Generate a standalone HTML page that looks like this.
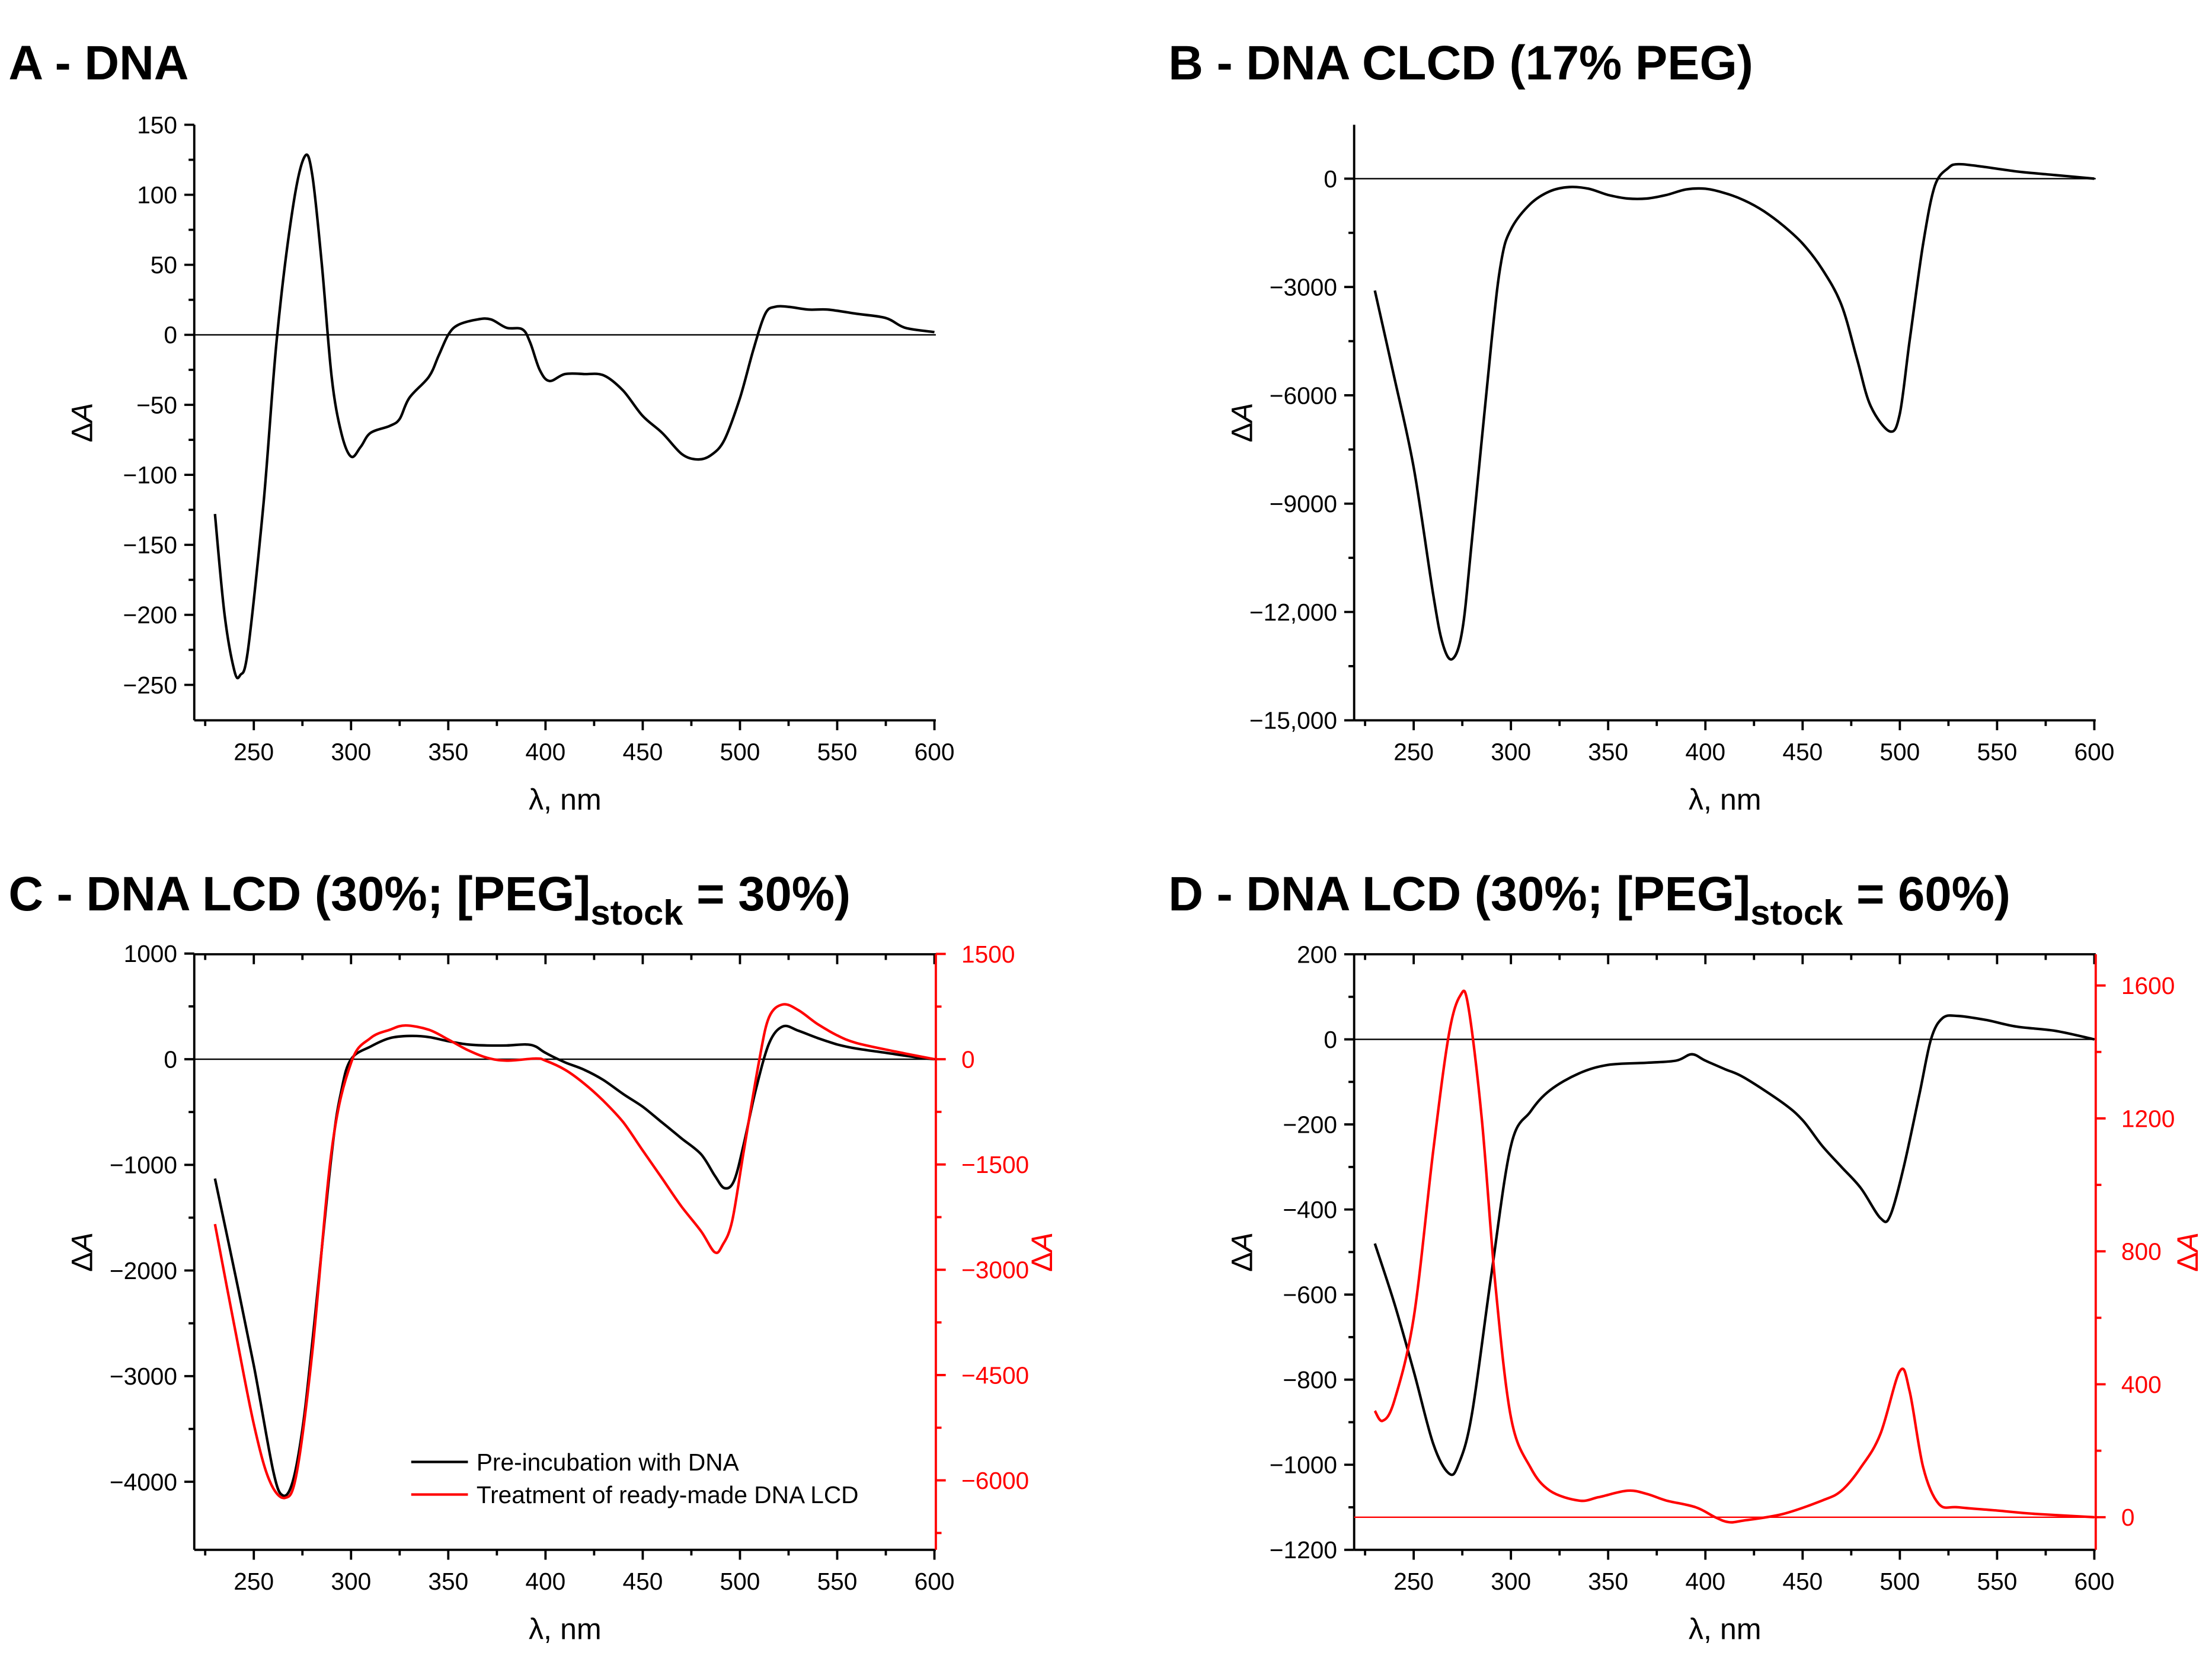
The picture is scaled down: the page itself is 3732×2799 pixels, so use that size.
<!DOCTYPE html>
<html><head><meta charset="utf-8"><style>
html,body{margin:0;padding:0;background:#fff}
svg{display:block}
text{font-family:"Liberation Sans",Arial,sans-serif}
</style></head><body>
<svg id="fig" width="3732" height="2799" viewBox="0 0 1560 1170" xmlns="http://www.w3.org/2000/svg">
</svg>
<script>
// Panel A data
const aLam=[230,235,240,243,247,255,262,270,276,280,285,290,295,300,305,310,320,325,330,340,345,350,355,365,372,380,388,392,397,402,410,420,430,440,450,460,470,478,485,492,500,507,513,518,525,535,545,560,575,585,600];
const aVal=[-128,-200,-240,-243,-225,-120,0,90,127,115,50,-30,-70,-87,-80,-70,-65,-60,-45,-30,-15,0,7,11,11,5,4,-5,-25,-33,-28,-28,-29,-40,-58,-70,-85,-89,-86,-75,-45,-10,15,20,20,18,18,15,12,5,2];
const aTicks=[150,100,50,0,-50,-100,-150,-200,-250];
// Panel B data
const bLam=[230,240,250,260,265,270,275,280,290,295,300,310,320,330,340,350,360,370,380,390,400,410,420,430,440,450,460,470,478,485,495,500,505,512,518,525,530,540,560,580,600];
const bVal=[-3100,-5500,-8000,-11500,-12900,-13300,-12500,-10000,-4500,-2300,-1400,-700,-350,-230,-280,-450,-550,-550,-450,-300,-280,-400,-600,-900,-1300,-1800,-2500,-3500,-5000,-6300,-7000,-6500,-4500,-1800,-200,300,400,350,200,100,0];
const bTicks=[0,-3000,-6000,-9000,-12000,-15000];
const bTickLabels=["0","\u22123000","\u22126000","\u22129000","\u221212,000","\u221215,000"];
// Panel C data
const cLamK=[230,240,250,260,265,270,275,280,290,295,300,310,320,330,340,350,360,370,380,390,395,400,410,420,430,440,450,460,470,480,487,492,497,502,508,515,522,530,540,550,560,575,590,600];
const cValK=[-1130,-2000,-2900,-3900,-4130,-4000,-3500,-2700,-900,-300,0,120,200,220,210,170,140,130,130,140,120,60,-30,-100,-200,-330,-450,-600,-750,-900,-1100,-1220,-1150,-800,-300,150,310,270,200,140,100,60,20,0];
const cLamR=[230,240,250,258,266,272,280,290,300,310,320,328,340,350,360,370,380,395,400,410,420,430,440,450,460,470,480,487,491,496,502,510,515,522,530,540,550,560,580,600];
const cValR=[-2350,-3800,-5200,-6000,-6250,-5900,-4200,-1300,-50,300,420,480,420,280,130,20,-20,10,-20,-150,-350,-600,-900,-1300,-1700,-2100,-2450,-2750,-2650,-2300,-1300,0,600,780,700,500,340,230,110,0];
const cTicksL=[1000,0,-1000,-2000,-3000,-4000];
const cTicksR=[1500,0,-1500,-3000,-4500,-6000];
// Panel D data
const dLamK=[230,240,250,260,268,273,280,290,300,310,320,335,350,370,385,393,400,410,420,440,450,460,470,480,490,495,502,510,516,522,530,545,560,580,600];
const dValK=[-480,-620,-780,-950,-1020,-1000,-880,-550,-250,-170,-120,-80,-60,-55,-50,-35,-50,-70,-90,-150,-190,-250,-300,-350,-420,-415,-300,-130,0,50,55,45,30,20,0];
const dLamR=[230,234,240,250,260,268,274,278,285,292,300,310,320,335,345,360,370,380,395,405,412,420,440,460,470,480,490,500,505,512,520,530,550,570,600];
const dValR=[320,290,350,600,1100,1450,1570,1540,1200,700,300,150,80,50,60,80,70,50,30,0,-15,-10,10,50,80,150,250,440,380,150,40,30,20,10,0];
const dTicksL=[200,0,-200,-400,-600,-800,-1000,-1200];
const dTicksR=[1600,1200,800,400,0];
const xTicks=[250,300,350,400,450,500,550,600];

const NS="http://www.w3.org/2000/svg";
const svg=document.getElementById('fig');
function mk(tag,attrs,parent){const e=document.createElementNS(NS,tag);for(const k in attrs)e.setAttribute(k,attrs[k]);(parent||svg).appendChild(e);return e;}
function minus(v){return v<0?"\u2212"+Math.abs(v):String(v);}
function smoothPath(pts){
  let d="M"+pts[0][0].toFixed(1)+","+pts[0][1].toFixed(1);
  for(let i=0;i<pts.length-1;i++){
    const p0=pts[i-1]||pts[i],p1=pts[i],p2=pts[i+1],p3=pts[i+2]||p2;
    const c1x=p1[0]+(p2[0]-p0[0])/6,c1y=p1[1]+(p2[1]-p0[1])/6;
    const c2x=p2[0]-(p3[0]-p1[0])/6,c2y=p2[1]-(p3[1]-p1[1])/6;
    d+=" C"+c1x.toFixed(1)+","+c1y.toFixed(1)+" "+c2x.toFixed(1)+","+c2y.toFixed(1)+" "+p2[0].toFixed(1)+","+p2[1].toFixed(1);
  }
  return d;
}
function xScale(x0,x1){return l=>x0+(l-250)*(x1-x0)/350;}
function yScale(v0,p0,v1,p1){return v=>p0+(v-v0)*(p1-p0)/(v1-v0);}

function panel(o){
  const g=mk('g',{});
  
  
  const t=mk('text',{x:o.tx,y:o.ty,'font-size':34,'font-weight':'bold',fill:'#000'},g);
  
  
  t.innerHTML=o.title;
  const X=o.X,Y=o.Y;
  const z=mk('line',{x1:o.L,x2:o.R,y1:Y(0),y2:Y(0),stroke:'#000','stroke-width':1},g);
  
  
  const ax=mk('g',{stroke:'#000','stroke-width':1.6,fill:'none'},g);
  
  
  mk('line',{x1:o.L,x2:o.L,y1:o.T,y2:o.B},ax);
  mk('line',{x1:o.L,x2:o.R,y1:o.B,y2:o.B},ax);
  if(o.box){mk('line',{x1:o.L,x2:o.R,y1:o.T,y2:o.T},ax);}
  for(let l=225;l<=600;l+=25){
    const x=X(l);const major=l%50==0;
    mk('line',{x1:x,x2:x,y1:o.B,y2:o.B+(major?7:4)},ax);
    if(o.box)mk('line',{x1:x,x2:x,y1:o.T,y2:o.T+(major?7:4)},ax);
  }
  xTicks.forEach(l=>{const tt=mk('text',{x:X(l),y:o.B+28,'font-size':17,'text-anchor':'middle'},g);tt.textContent=l;});
  const xt=mk('text',{x:(o.L+o.R)/2,y:o.B+63,'font-size':21,'text-anchor':'middle'},g);
  
  
  xt.textContent="\u03bb, nm";
  o.lt.forEach((v,i)=>{
    const y=Y(v);mk('line',{x1:o.L-7,x2:o.L,y1:y,y2:y},ax);
    const tt=mk('text',{x:o.L-12,y:y+6,'font-size':17,'text-anchor':'end'},g);
    
    
    tt.textContent=o.ll?o.ll[i]:minus(v);
    if(i<o.lt.length-1){const ym=Y((v+o.lt[i+1])/2);mk('line',{x1:o.L-4,x2:o.L,y1:ym,y2:ym},ax);}
  });
  const yt=mk('text',{transform:`translate(${o.L-72},${(o.T+o.B)/2}) rotate(-90)`,'font-size':21,'text-anchor':'middle'},g);
  
  
  yt.innerHTML='\u0394<tspan font-style="italic">A</tspan>';
  if(o.YR){
    const ra=mk('g',{stroke:'#f00','stroke-width':1.6},g);
    
    
    mk('line',{x1:o.R,x2:o.R,y1:o.T,y2:o.B},ra);
    o.rt.forEach((v,i)=>{
      const y=o.YR(v);mk('line',{x1:o.R,x2:o.R+7,y1:y,y2:y},ra);
      const tt=mk('text',{x:o.R+18,y:y+6,'font-size':17,fill:'#f00',stroke:'none'},g);
      
      
      tt.textContent=minus(v);
      if(i<o.rt.length-1){const ym=o.YR((v+o.rt[i+1])/2);mk('line',{x1:o.R,x2:o.R+4,y1:ym,y2:ym},ra);}
    });
    const extra=o.YR(o.rt[o.rt.length-1]-(o.rt[0]-o.rt[1])/2);
    if(extra<o.B)mk('line',{x1:o.R,x2:o.R+4,y1:extra,y2:extra},ra);
    const rt=mk('text',{transform:`translate(${o.R+o.rto},${(o.T+o.B)/2}) rotate(-90)`,'font-size':21,'text-anchor':'middle',fill:'#f00'},g);
    
    
    rt.innerHTML='\u0394<tspan font-style="italic">A</tspan>';
  }
  if(o.redZero){
    const rz=mk('line',{x1:o.L,x2:o.R,y1:o.YR(0),y2:o.YR(0),stroke:'#f00','stroke-width':1},g);
    
    
  }
  const k=mk('path',{d:smoothPath(o.kl.map((l,i)=>[X(l),Y(o.kv[i])])),stroke:'#000','stroke-width':1.8,fill:'none'},g);
  
  
  if(o.rl){
    const r=mk('path',{d:smoothPath(o.rl.map((l,i)=>[X(l),o.YR(o.rv[i])])),stroke:'#f00','stroke-width':1.8,fill:'none'},g);
    
    
  }
  return g;
}

panel({name:'panel-a',title:'A - DNA',tx:6,ty:56,L:137,R:660,T:88,B:508,box:false,
  X:xScale(179,659),Y:yScale(150,88,-250,483),lt:aTicks,kl:aLam,kv:aVal});
panel({name:'panel-b',title:'B - DNA CLCD (17% PEG)',tx:824,ty:56,L:955,R:1478,T:88,B:508,box:false,
  X:xScale(997,1477),Y:yScale(0,126,-15000,508),lt:bTicks,ll:bTickLabels,kl:bLam,kv:bVal});
panel({name:'panel-c',title:'C - DNA LCD (30%; [PEG]<tspan font-size="25" dy="10">stock</tspan><tspan dy="-10"> = 30%)</tspan>',tx:6,ty:642,L:137,R:660,T:673,B:1093,box:true,
  X:xScale(179,659),Y:yScale(0,747,-4000,1045),lt:cTicksL,kl:cLamK,kv:cValK,
  YR:yScale(0,747,-6000,1044),rt:cTicksR,rl:cLamR,rv:cValR,rto:82});
panel({name:'panel-d',title:'D - DNA LCD (30%; [PEG]<tspan font-size="25" dy="10">stock</tspan><tspan dy="-10"> = 60%)</tspan>',tx:824,ty:642,L:955,R:1478,T:673,B:1093,box:true,
  X:xScale(997,1477),Y:yScale(0,733,-1200,1093),lt:dTicksL,kl:dLamK,kv:dValK,
  YR:yScale(0,1070,1600,695),rt:dTicksR,rl:dLamR,rv:dValR,redZero:true,rto:72});
const lg=mk('g',{});


[['Pre-incubation with DNA','#000',1031],['Treatment of ready-made DNA LCD','#f00',1054]].forEach(e=>{
  const it=mk('g',{},lg);
  
  
  mk('line',{x1:290,x2:330,y1:e[2],y2:e[2],stroke:e[1],'stroke-width':1.8},it);
  const t=mk('text',{x:336,y:e[2]+6,'font-size':17},it);t.textContent=e[0];
});
</script>
</body></html>
